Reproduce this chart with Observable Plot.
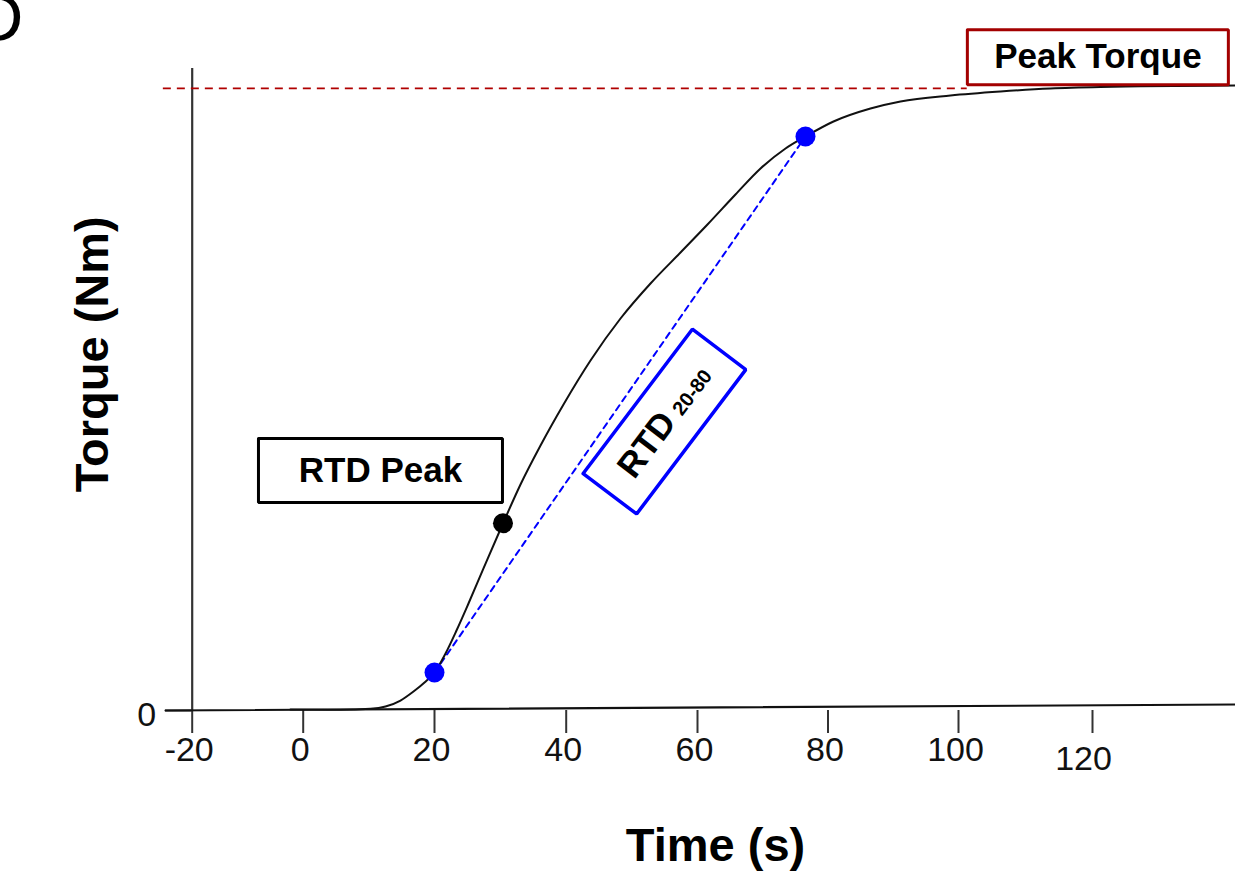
<!DOCTYPE html>
<html><head><meta charset="utf-8">
<script src="https://cdn.jsdelivr.net/npm/d3@7"></script>
<script src="https://cdn.jsdelivr.net/npm/@observablehq/plot@0.6"></script>
<style>html,body{margin:0;padding:0;background:#fff;} svg{display:block}</style>
</head><body><div id="chart"></div>
<script>
// ---------------- data ----------------
const timeS  = [-2.3, 5.7, 10.25, 12.54, 14.82, 16.8, 18.48, 20.0, 21.67, 23.34, 25.16, 27.44, 30.33, 33.06, 36.1, 39.59, 43.7, 48.27, 52.84, 57.41, 61.53, 65.82, 69.66, 73.49, 76.55, 80.84, 86.51, 91.11, 98.77, 106.27, 113.73, 121.19, 141.34];
const torque = [0.16, 0.11, 0.27, 0.64, 1.6, 3.04, 4.49, 6.09, 9.13, 12.82, 17.15, 22.76, 29.81, 36.22, 42.47, 49.04, 56.09, 62.82, 68.43, 73.4, 77.88, 82.69, 86.86, 90.06, 91.99, 94.39, 96.47, 97.6, 98.56, 99.2, 99.68, 99.92, 100.16];
const rtdTime = [20.0, 76.55];
const rtdTorque = [6.09, 91.99];
const rtdPeakTime = [30.4];
const rtdPeakTorque = [30.0];
const peakTorque = 99.7;
const peakLineTime = [-25.2, 101.3];
const baselineTime = [-24.8, 141.3];
const baselineTorque = [0, 0.96];
const xTicks = [-20, 0, 20, 40, 60, 80, 100, 120];
const xTickLabels = ["-20", "0", "20", "40", "60", "80", "100", "120"];
const yTicks = [0];
const yTickLabels = ["0"];
const yAxisTop = 102.9;
const xTitle = "Time (s)";
const yTitle = "Torque (Nm)";
const panelLetter = "D";
// annotation anchors (data units)
const annPeakTorque = {text: "Peak Torque", t: 120.8, v: 104.7};
const annRtdPeak = {text: "RTD Peak", t: 11.77, v: 38.46};
const annRtd = {text: "RTD", sub: "20-80", t: 54.97, v: 46.3};
const xTitlePos = {t: 62.76, v: -21.7};
const yTitlePos = {t: -37.9, v: 57.1};
const letterPos = {t: -50.4, v: 110.8};

// ---------------- layout ----------------
const W = 1235, H = 873;
const xRange = [191.7, 302.7, 434, 565.7, 697, 827.5, 958, 1092];
const yDomain = [0, 100], yRange = [710, 86];
const xs = d3.scaleLinear().domain(xTicks).range(xRange);
const ys = d3.scaleLinear().domain(yDomain).range(yRange);
const RTD_ANGLE = -52.9;

function boxPts(a, w, h, angle) {
  const cx = xs(a.t), cy = ys(a.v), r = angle * Math.PI / 180;
  const ux = Math.cos(r), uy = Math.sin(r), nx = -Math.sin(r), ny = Math.cos(r);
  return [[-1,-1],[1,-1],[1,1],[-1,1],[-1,-1]].map(([i, j]) => {
    const px = cx + i * w / 2 * ux + j * h / 2 * nx;
    const py = cy + i * w / 2 * uy + j * h / 2 * ny;
    return {t: xs.invert(px), v: ys.invert(py)};
  });
}
function shift(a, along, perp, angle) {
  const r = angle * Math.PI / 180;
  const px = xs(a.t) + along * Math.cos(r) - perp * Math.sin(r);
  const py = ys(a.v) + along * Math.sin(r) + perp * Math.cos(r);
  return {t: xs.invert(px), v: ys.invert(py)};
}

const curve = timeS.map((t, i) => ({t, v: torque[i]}));
const rtdPts = rtdTime.map((t, i) => ({t, v: rtdTorque[i]}));
const peakPts = rtdPeakTime.map((t, i) => ({t, v: rtdPeakTorque[i]}));
const baseline = baselineTime.map((t, i) => ({t, v: baselineTorque[i]}));
const rtdMain = shift(annRtd, -29, 0, RTD_ANGLE);
const rtdSub = shift(annRtd, 40, 4.8, RTD_ANGLE);

const tickFont = "'Liberation Sans Narrow', 'Arial Narrow', 'Liberation Sans', Arial, sans-serif";
const bold = "'Liberation Sans', Arial, Helvetica, sans-serif";
const tickLen = ys.invert(yRange[0] + 23);

const chart = Plot.plot({
  width: W, height: H,
  marginLeft: xRange[0], marginBottom: H - yRange[0], marginTop: 0, marginRight: 0,
  style: {background: "white", color: "#222", fontFamily: tickFont, overflow: "visible"},
  x: {type: "linear", domain: xTicks, range: xRange, axis: null},
  y: {type: "linear", domain: yDomain, range: yRange, axis: null},
  marks: [
    // axes
    Plot.ruleX([xTicks[0]], {x: d => d, y1: 0, y2: yAxisTop, stroke: "#333", strokeWidth: 2.2}),
    Plot.ruleX(xTicks, {x: d => d, y1: 0, y2: tickLen, stroke: "#333", strokeWidth: 2}),
    Plot.ruleY(yTicks, {y: d => d, x1: xs.invert(165), x2: xTicks[0], stroke: "#333", strokeWidth: 2}),
    Plot.line(baseline, {x: "t", y: "v", stroke: "#111", strokeWidth: 2.2}),
    Plot.text(xTicks.slice(0, -1), {x: d => d, y: 0, text: (d, i) => xTickLabels[i], dy: 40, dx: -3, fontSize: 34, fontFamily: tickFont, fill: "#111"}),
    Plot.text(xTicks.slice(-1), {x: d => d, y: 0, text: () => xTickLabels[xTickLabels.length - 1], dy: 49, dx: -9, fontSize: 34, fontFamily: tickFont, fill: "#111"}),
    Plot.text(yTicks, {x: xTicks[0], y: d => d, text: (d, i) => yTickLabels[i], textAnchor: "end", dx: -36, dy: 5, fontSize: 34, fontFamily: tickFont, fill: "#111"}),
    // peak torque reference
    Plot.ruleY([peakTorque], {y: d => d, x1: peakLineTime[0], x2: peakLineTime[1], stroke: "#b00000", strokeWidth: 1.7, strokeDasharray: "8,6"}),
    // RTD 20-80 chord
    Plot.line(rtdPts, {x: "t", y: "v", stroke: "#0000ff", strokeWidth: 2, strokeDasharray: "6,5"}),
    // torque curve
    Plot.line(curve, {x: "t", y: "v", curve: "monotone-x", stroke: "#111", strokeWidth: 2}),
    Plot.dot(rtdPts, {x: "t", y: "v", r: 10, fill: "#0000ff"}),
    Plot.dot(peakPts, {x: "t", y: "v", r: 10, fill: "#000"}),
    // annotation boxes
    Plot.line(boxPts(annPeakTorque, 261, 55, 0), {x: "t", y: "v", stroke: "#a30000", strokeWidth: 3, fill: "white", strokeLinejoin: "miter"}),
    Plot.line(boxPts(annRtdPeak, 244, 64, 0), {x: "t", y: "v", stroke: "#000", strokeWidth: 3, fill: "white", strokeLinejoin: "miter"}),
    Plot.line(boxPts(annRtd, 181, 67, RTD_ANGLE), {x: "t", y: "v", stroke: "#0000ff", strokeWidth: 3.5, fill: "white", strokeLinejoin: "miter"}),
    Plot.text([annPeakTorque], {x: "t", y: "v", text: "text", fontSize: 35, fontWeight: "bold", fontFamily: bold, fill: "#000"}),
    Plot.text([annRtdPeak], {x: "t", y: "v", text: "text", fontSize: 35, fontWeight: "bold", fontFamily: bold, fill: "#000"}),
    Plot.text([rtdMain], {x: "t", y: "v", text: () => annRtd.text, rotate: RTD_ANGLE, fontSize: 35, fontWeight: "bold", fontFamily: bold, fill: "#000"}),
    Plot.text([rtdSub], {x: "t", y: "v", text: () => annRtd.sub, rotate: RTD_ANGLE, fontSize: 20, fontWeight: "bold", fontFamily: bold, fill: "#000"}),
    // titles
    Plot.text([xTitlePos], {x: "t", y: "v", text: () => xTitle, fontSize: 47, fontWeight: "bold", fontFamily: bold, fill: "#000"}),
    Plot.text([yTitlePos], {x: "t", y: "v", text: () => yTitle, rotate: -90, fontSize: 47, fontWeight: "bold", fontFamily: bold, fill: "#000"}),
    Plot.text([letterPos], {x: "t", y: "v", text: () => panelLetter, textAnchor: "end", fontSize: 68, fontWeight: 500, fontFamily: bold, fill: "#000"})
  ]
});
document.getElementById("chart").appendChild(chart);
</script>
</body></html>
